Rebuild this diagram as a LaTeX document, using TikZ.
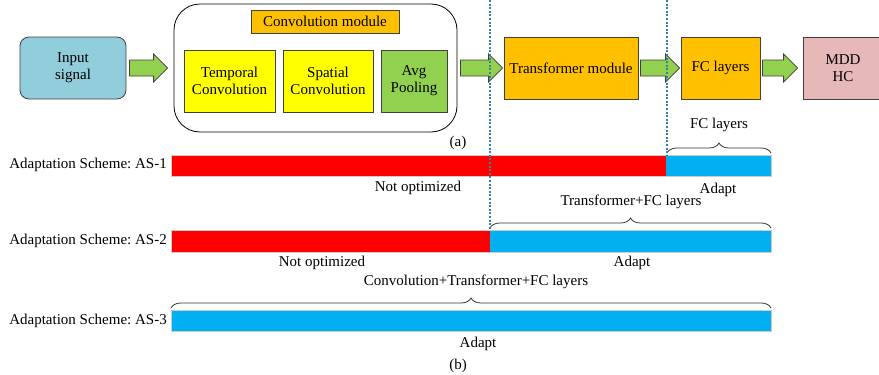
\documentclass[tikz,border=0pt]{standalone}
\usepackage{fontspec}
\setmainfont{Liberation Serif}
\frenchspacing
\usetikzlibrary{decorations.pathreplacing,calc}

\definecolor{inblue}{HTML}{92CDDC}
\definecolor{modorange}{HTML}{FFC000}
\definecolor{convyellow}{HTML}{FFFF00}
\definecolor{poolgreen}{HTML}{92D050}
\definecolor{outpink}{HTML}{E6B8B7}
\definecolor{frozenred}{HTML}{FF0000}
\definecolor{adaptblue}{HTML}{00B0F0}
\definecolor{splitteal}{HTML}{31849B}
\definecolor{edgegray}{HTML}{404040}

\tikzset{
  blk/.style={draw=edgegray, line width=0.8pt, align=center, inner sep=0pt,
    font=\fontsize{15}{17}\selectfont},
  barrowstyle/.style={draw=edgegray, fill=poolgreen, line width=0.8pt, line join=miter},
  bar/.style={draw=gray!40, line width=0.5pt},
  txt/.style={font=\fontsize{15}{17}\selectfont, inner sep=0pt},
  splitline/.style={draw=splitteal, line width=1.3pt, dash pattern=on 2pt off 1.6pt},
  bracestyle/.style={draw=black!80, line width=0.8pt,
    decorate, decoration={brace, amplitude=10pt}},
}

% block arrow from the first point to the second, level with the first
\newcommand\barrow[2]{%
  \draw[barrowstyle] let \p1=(#1), \p2=(#2) in
    (\x1,\y1+8pt) -- (\x2-14pt,\y1+8pt) -- (\x2-14pt,\y1+14pt) -- (\x2,\y1)
    -- (\x2-14pt,\y1-14pt) -- (\x2-14pt,\y1-8pt) -- (\x1,\y1-8pt) -- cycle;}

\begin{document}
\begin{tikzpicture}[x=1pt,y=-1pt]
\useasboundingbox (0,0) rectangle (879,375);
\begin{scope}
\clip (0,0) rectangle (879,375);

% ---------- (a) network pipeline ----------
\node[blk, fill=inblue, rounded corners=9pt, minimum width=106pt, minimum height=62pt]
  (input) at (73,68) {Input\\signal};

\node[draw=black, line width=0.8pt, rounded corners=26pt, minimum width=283pt,
  minimum height=128pt] (convbox) at (315.5,68) {};
\node[blk, fill=modorange, minimum width=148pt, minimum height=23pt]
  (convmod) at (325,21.5) {Convolution module};
\node[blk, fill=convyellow, minimum width=91pt, minimum height=62pt]
  (temporal) at (229.5,81) {Temporal\\Convolution};
\node[blk, fill=convyellow, minimum width=90pt, minimum height=62pt]
  (spatial) at (328,81) {Spatial\\Convolution};
\node[blk, fill=poolgreen, minimum width=66pt, minimum height=62pt]
  (avgpool) at (414,81) {Avg\\Pooling};

\node[blk, fill=modorange, minimum width=134pt, minimum height=62pt]
  (transformer) at (571,68) {Transformer module};
\node[blk, fill=modorange, minimum width=79pt, minimum height=62pt]
  (fc) at (720.5,68) {FC layers};
\node[blk, fill=outpink, minimum width=80pt, minimum height=62pt]
  (mdd) at (843,68) {MDD\\HC};

\coordinate (a1s) at ($(input.east)+(3,0)$);
\coordinate (a1e) at ($(convbox.west)+(-6,0)$);
\coordinate (a2s) at ($(convbox.east)+(3,0)$);
\coordinate (a2e) at ($(transformer.west)+(-1,0)$);
\coordinate (a3s) at ($(transformer.east)+(2,0)$);
\coordinate (a3e) at ($(fc.west)+(-1,0)$);
\coordinate (a4s) at ($(fc.east)+(2,0)$);
\coordinate (a4e) at ($(mdd.west)+(-5,0)$);
\barrow{a1s}{a1e}
\barrow{a2s}{a2e}
\barrow{a3s}{a3e}
\barrow{a4s}{a4e}

\node[txt] (capa) at (458,143) {(a)};

% ---------- (b) adaptation schemes ----------
% AS-1
\node[txt, anchor=east] (as1) at (167,165) {Adaptation Scheme: AS-1};
\fill[frozenred] (171,155) rectangle (666,176);
\fill[adaptblue] (666,155) rectangle (771,176);
\draw[bar] (171,155) rectangle (771,176);
\coordinate (as1split) at (667,155);
\node[txt] (no1) at (418,188) {Not optimized};
\node[txt] (ad1) at (718,190) {Adapt};
\draw[bracestyle] (667,153) -- (771,153);
\node[txt] (br1) at (719,125) {FC layers};

% AS-2
\node[txt, anchor=east] (as2) at (167,241) {Adaptation Scheme: AS-2};
\fill[frozenred] (171,230) rectangle (490,252);
\fill[adaptblue] (490,230) rectangle (771,252);
\draw[bar] (171,230) rectangle (771,252);
\coordinate (as2split) at (490,230);
\node[txt] (no2) at (322,263) {Not optimized};
\node[txt] (ad2) at (632,263) {Adapt};
\draw[bracestyle] (490,228) -- (771,228);
\node[txt] (br2) at (631,202) {Transformer+FC layers};

% AS-3
\node[txt, anchor=east] (as3) at (167,321) {Adaptation Scheme: AS-3};
\fill[adaptblue] (171,310) rectangle (771,331);
\draw[bar] (171,310) rectangle (771,331);
\node[txt] (ad3) at (478,344) {Adapt};
\draw[bracestyle] (171,308) -- (771,308);
\node[txt] (br3) at (476,282) {Convolution+Transformer+FC layers};

\node[txt] (capb) at (458,366) {(b)};

% split lines between frozen and adapted parts
\coordinate (top1) at (490,0);
\coordinate (top2) at (667,0);
\draw[splitline] (top1) -- (as2split);
\draw[splitline] (top2) -- (as1split);
\end{scope}
\end{tikzpicture}
\end{document}
